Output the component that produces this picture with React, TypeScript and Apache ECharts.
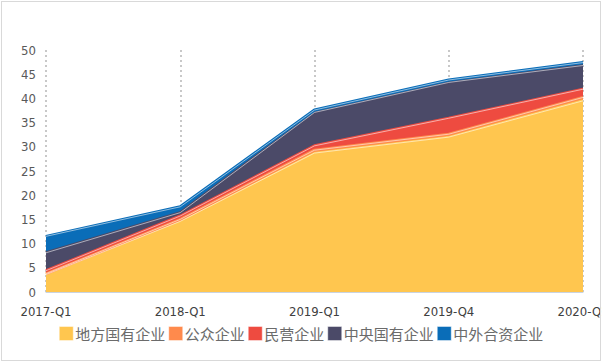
import React, { useEffect, useRef } from "react";
import * as echarts from "echarts";

const categories = ["2017-Q1", "2018-Q1", "2019-Q1", "2019-Q4", "2020-Q1"];
const seriesNames = ["地方国有企业", "公众企业", "民营企业", "中央国有企业", "中外合资企业"];
const localSOE = [3.6, 14.6, 28.7, 32.0, 39.5];
const publicCo = [0.2, 0.4, 0.6, 0.6, 0.7];
const privateCo = [0.6, 0.7, 0.9, 3.3, 1.7];
const centralSOE = [3.7, 0.7, 6.9, 7.4, 4.9];
const jointVenture = [3.4, 1.2, 0.5, 0.5, 0.6];
const seriesData = [localSOE, publicCo, privateCo, centralSOE, jointVenture];
const colors = ["#FFC64F", "#FF8A4C", "#EE4B40", "#4B4A68", "#0A6DB8"];

export default function App() {
  const ref = useRef<HTMLDivElement>(null);
  useEffect(() => {
    document.body.style.margin = "0";
    document.body.style.overflow = "hidden";
    const chart = echarts.init(ref.current!, undefined, { renderer: "svg" });
    const main = seriesNames.map((name, i) => ({
      name,
      type: "line",
      stack: "total",
      data: seriesData[i],
      showSymbol: false,
      symbol: "none",
      color: colors[i],
      lineStyle: { color: colors[i], width: 3 },
      areaStyle: { color: colors[i], opacity: 1 },
      z: 2,
    }));
    const overlay = seriesNames.map((name, i) => ({
      name: name + "_hl",
      type: "line",
      stack: "overlay",
      data: seriesData[i],
      showSymbol: false,
      symbol: "none",
      lineStyle: { color: "rgba(255,255,255,0.55)", width: 1 },
      silent: true,
      z: 3,
    }));
    chart.setOption({
      animation: false,
      color: colors,
      grid: { left: 46, right: 19, top: 50, bottom: 70, containLabel: false, outerBoundsMode: "none" },
      legend: {
        data: seriesNames,
        bottom: 16,
        left: "center",
        icon: "rect",
        itemWidth: 14,
        itemHeight: 14,
        itemGap: 3,
        textStyle: { color: "#6b6b6b", fontSize: 15, fontFamily: "Noto Sans CJK SC", padding: [0, 0, 0, -3] },
        itemStyle: { borderColor: "rgba(255,255,255,0.45)", borderWidth: 1 },
      },
      xAxis: {
        type: "category",
        data: categories,
        boundaryGap: false,
        axisLine: { show: true, lineStyle: { color: "#c9d3e0", width: 1 } },
        axisTick: { show: false },
        axisLabel: { color: "#404040", fontSize: 13, margin: 13, fontFamily: "DejaVu Sans Condensed, Noto Sans" },
        splitLine: { show: true, lineStyle: { color: "#c8c8c8", type: [2, 3], width: 2 } },
      },
      yAxis: {
        type: "value",
        min: 0,
        max: 50,
        interval: 5,
        axisLine: { show: false },
        axisTick: { show: false },
        splitLine: { show: false },
        axisLabel: { color: "#595959", fontSize: 13, margin: 10, fontFamily: "DejaVu Sans Condensed, Noto Sans" },
      },
      series: [...main, ...overlay],
    });
    return () => chart.dispose();
  }, []);
  return (
    <div style={{ position: "fixed", left: 0, top: 0, width: 602, height: 362, background: "#fff" }}>
      <div ref={ref} style={{ position: "absolute", left: 0, top: 0, width: 602, height: 362 }} />
      <div
        style={{
          position: "absolute",
          left: 1,
          top: 1,
          width: 600,
          height: 360,
          border: "1px solid #d9d9d9",
          boxSizing: "border-box",
          pointerEvents: "none",
        }}
      />
    </div>
  );
}
